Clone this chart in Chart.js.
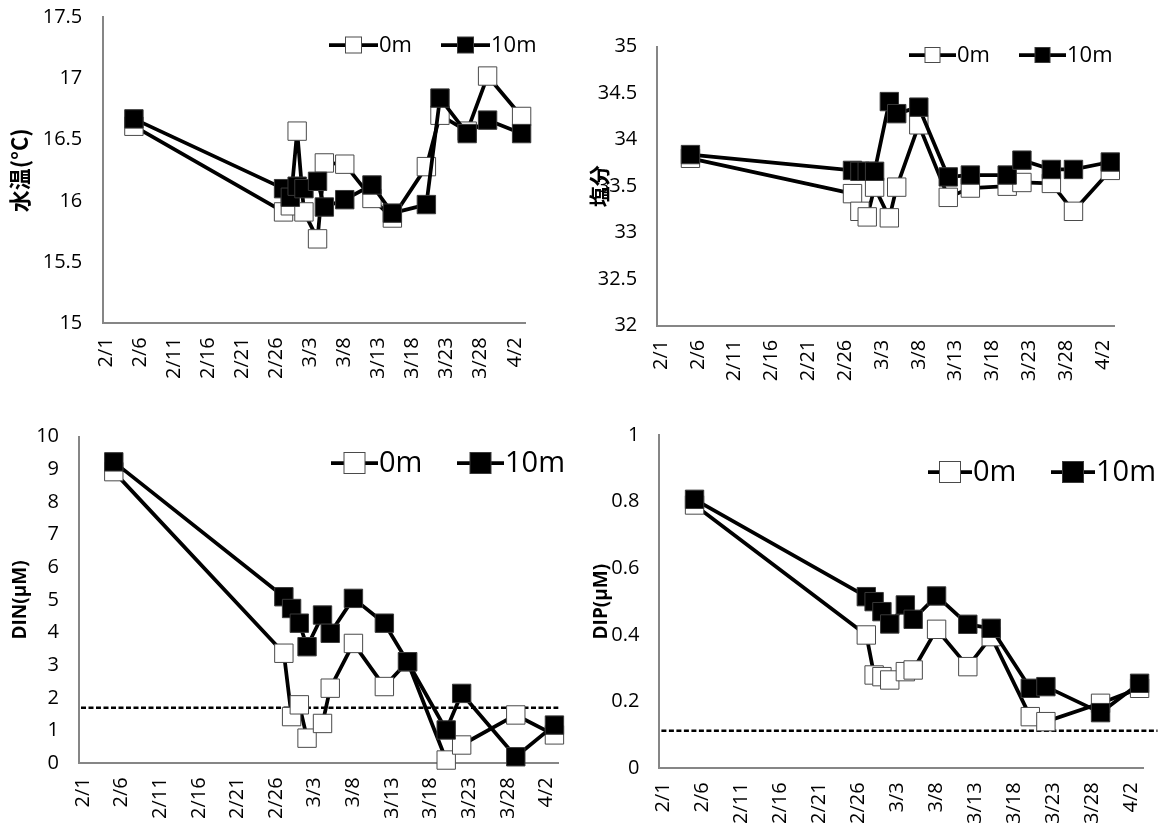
<!DOCTYPE html>
<html>
<head>
<meta charset="utf-8">
<script src="https://cdn.jsdelivr.net/npm/chart.js@4.4.0/dist/chart.umd.min.js"></script>
<style>
  html, body { margin: 0; padding: 0; background: #fff; }
  #wrap { position: relative; width: 1173px; height: 825px; overflow: hidden; }
  #wrap canvas { position: absolute; }
</style>
</head>
<body>
<div id="wrap">
  <canvas id="chartTemp" width="586" height="412" style="left:0;top:0"></canvas>
  <canvas id="chartSal" width="587" height="412" style="left:586px;top:0"></canvas>
  <canvas id="chartDIN" width="586" height="413" style="left:0;top:412px"></canvas>
  <canvas id="chartDIP" width="587" height="413" style="left:586px;top:412px"></canvas>
</div>
<script>
// sampling dates (M/D)
const DATES_CTD = ['2/5','2/27','2/28','3/1','3/2','3/4','3/5','3/8','3/12','3/15','3/20','3/22','3/26','3/29','4/3'];
const DATES_NUT = ['2/5','2/27','2/28','3/1','3/2','3/4','3/5','3/8','3/12','3/15','3/20','3/22','3/29','4/3'];
const TICK_DATES = ['2/1','2/6','2/11','2/16','2/21','2/26','3/3','3/8','3/13','3/18','3/23','3/28','4/2'];

const TEMP_0M  = [16.61, 15.91, 15.96, 16.57, 15.91, 15.69, 16.31, 16.30, 16.02, 15.86, 16.28, 16.70, 16.57, 17.02, 16.69];
const TEMP_10M = [16.67, 16.10, 16.03, 16.12, 16.10, 16.16, 15.95, 16.01, 16.13, 15.90, 15.97, 16.84, 16.55, 16.66, 16.55];

const SAL_0M  = [33.80, 33.42, 33.23, 33.17, 33.49, 33.16, 33.49, 34.16, 33.38, 33.48, 33.50, 33.54, 33.53, 33.23, 33.67];
const SAL_10M = [33.84, 33.67, 33.66, 33.66, 33.66, 34.41, 34.28, 34.35, 33.60, 33.62, 33.62, 33.78, 33.68, 33.68, 33.76];

const DIN_0M  = [8.93, 3.37, 1.43, 1.79, 0.77, 1.22, 2.30, 3.67, 2.35, 3.11, 0.10, 0.56, 1.48, 0.87];
const DIN_10M = [9.23, 5.10, 4.74, 4.29, 3.57, 4.54, 3.98, 5.05, 4.29, 3.11, 1.02, 2.14, 0.20, 1.17];

const DIP_0M  = [0.790, 0.400, 0.280, 0.275, 0.265, 0.290, 0.295, 0.417, 0.305, 0.395, 0.155, 0.140, 0.195, 0.240];
const DIP_10M = [0.807, 0.515, 0.500, 0.470, 0.433, 0.490, 0.447, 0.517, 0.432, 0.420, 0.240, 0.245, 0.167, 0.255];

// detection-limit lines
const DIN_LIMIT = 1.7;
const DIP_LIMIT = 0.113;

const FONT = "'Open Sans', 'DejaVu Sans', sans-serif";
const JP_FONT = "'Noto Sans CJK JP', 'Noto Sans', sans-serif";
const AXIS_GRAY = '#868686';

// days since 2/1
function toDay(md) {
  const [m, d] = md.split('/').map(Number);
  const monthStart = { 2: 0, 3: 28, 4: 59 };
  return monthStart[m] + d - 1;
}

function series(dates, vals) {
  return dates.map((d, i) => ({ x: toDay(d), y: vals[i] }));
}

const tickLabelByDay = Object.fromEntries(TICK_DATES.map(t => [toDay(t), t]));

const legendMarks = {
  id: 'legendMarks',
  afterDraw(chart, args, opts) {
    const ctx = chart.ctx;
    ctx.save();
    chart.data.datasets.forEach((ds, i) => {
      if (!ds.label) return;
      const x = opts.x + i * opts.step;
      const y = opts.y;
      ctx.strokeStyle = '#000';
      ctx.lineWidth = ds.borderWidth;
      ctx.beginPath();
      ctx.moveTo(x, y);
      ctx.lineTo(x + opts.len, y);
      ctx.stroke();
      const s = opts.box;
      const bx = x + opts.len / 2 - s / 2;
      ctx.fillStyle = ds.pointBackgroundColor;
      ctx.fillRect(bx, y - s / 2, s, s);
      ctx.strokeStyle = ds.pointBorderColor;
      ctx.lineWidth = 1;
      ctx.strokeRect(bx, y - s / 2, s, s);
      ctx.fillStyle = '#000';
      ctx.font = `${opts.size}px ${FONT}`;
      ctx.textBaseline = 'middle';
      ctx.textAlign = 'left';
      ctx.fillText(ds.label, x + opts.len + 1, y + 1);
    });
    ctx.restore();
  }
};

const refLine = {
  id: 'refLine',
  beforeDatasetsDraw(chart, args, opts) {
    if (opts.value == null) return;
    const { ctx, chartArea, scales } = chart;
    const py = scales.y.getPixelForValue(opts.value);
    ctx.save();
    ctx.setLineDash([5, 2.5]);
    ctx.lineWidth = 2.5;
    ctx.strokeStyle = '#000';
    ctx.beginPath();
    ctx.moveTo(chartArea.left + 2, py);
    ctx.lineTo(chartArea.right + (opts.extend || 0), py);
    ctx.stroke();
    ctx.restore();
  }
};

function lineSet(label, data, filled) {
  return {
    label,
    data,
    borderColor: '#000',
    borderWidth: 3.75,
    borderJoinStyle: 'round',
    borderCapStyle: 'round',
    pointStyle: 'rect',
    pointRadius: 13,
    pointBackgroundColor: filled ? '#000' : '#fff',
    pointBorderColor: filled ? '#3a3a3a' : '#4a4a4a',
    pointBorderWidth: 1,
    tension: 0,
    fill: false,
    clip: false,
    order: filled ? 0 : 1
  };
}

function noEdgePadding(s) {
  s.paddingTop = 0;
  s.paddingBottom = 0;
  s.paddingLeft = 0;
  s.paddingRight = 0;
}

function makeChart(id, cfg) {
  const el = document.getElementById(id);
  return new Chart(el, {
    type: 'line',
    data: {
      datasets: [
        lineSet('0m', series(cfg.dates, cfg.v0), false),
        lineSet('10m', series(cfg.dates, cfg.v10), true)
      ]
    },
    options: {
      responsive: false,
      animation: false,
      events: [],
      layout: { autoPadding: false, padding: { left: 0, top: cfg.top, right: cfg.right, bottom: 0 } },
      plugins: {
        legend: { display: false },
        tooltip: { enabled: false },
        legendMarks: cfg.legend,
        refLine: { value: cfg.limit, extend: cfg.limitExtend || 0 }
      },
      scales: {
        x: {
          type: 'linear',
          min: toDay('2/1') - 0.5,
          max: toDay('4/3') + 0.5,
          grid: { display: false, drawTicks: false },
          border: { display: true, color: AXIS_GRAY, width: 2 },
          afterBuildTicks: s => { s.ticks = TICK_DATES.map(t => ({ value: toDay(t) })); },
          afterFit: s => { s.height = cfg.xHeight; noEdgePadding(s); },
          ticks: {
            autoSkip: false,
            minRotation: 90,
            maxRotation: 90,
            padding: 14,
            color: '#000',
            font: { family: FONT, size: 20 },
            callback: v => tickLabelByDay[v] || ''
          }
        },
        y: {
          min: cfg.yMin,
          max: cfg.yMax,
          grid: { display: false, drawTicks: false },
          border: { display: true, color: AXIS_GRAY, width: 2 },
          afterFit: s => { s.width = cfg.yWidth; noEdgePadding(s); },
          ticks: {
            stepSize: cfg.yStep,
            padding: cfg.tickPad,
            color: '#000',
            font: { family: FONT, size: 20 },
            callback: v => String(parseFloat(v.toFixed(2)))
          },
          title: {
            display: true,
            text: cfg.title,
            color: '#000',
            font: { family: cfg.titleFont, size: cfg.titleSize, weight: 'bold' },
            padding: { top: cfg.titlePad, bottom: 0 }
          }
        }
      }
    },
    plugins: [legendMarks, refLine]
  });
}

document.addEventListener('DOMContentLoaded', () => {
  makeChart('chartTemp', {
    dates: DATES_CTD, v0: TEMP_0M, v10: TEMP_10M,
    yMin: 15, yMax: 17.5, yStep: 0.5,
    top: 17.3, right: 61, yWidth: 103.3, xHeight: 88.7, tickPad: 21,
    title: '水温(°C)', titleFont: JP_FONT, titleSize: 22, titlePad: 6,
    legend: { x: 329, y: 45, step: 112, len: 49, box: 16, size: 22 }
  });
  makeChart('chartSal', {
    dates: DATES_CTD, v0: SAL_0M, v10: SAL_10M,
    yMin: 32, yMax: 35, yStep: 0.5,
    top: 46.7, right: 59, yWidth: 71.3, xHeight: 86.3, tickPad: 20,
    title: '塩分', titleFont: JP_FONT, titleSize: 21, titlePad: 0,
    legend: { x: 323, y: 55, step: 110, len: 47, box: 15, size: 22 }
  });
  makeChart('chartDIN', {
    dates: DATES_NUT, v0: DIN_0M, v10: DIN_10M,
    yMin: 0, yMax: 10, yStep: 1,
    top: 24.7, right: 27.7, yWidth: 79, xHeight: 61.7, tickPad: 20,
    title: 'DIN(μM)', titleFont: FONT, titleSize: 19, titlePad: 9,
    legend: { x: 331, y: 51, step: 126, len: 47, box: 21, size: 29 },
    limit: DIN_LIMIT
  });
  makeChart('chartDIP', {
    dates: DATES_NUT, v0: DIP_0M, v10: DIP_10M,
    yMin: 0, yMax: 1, yStep: 0.2,
    top: 23, right: 29.5, yWidth: 73.4, xHeight: 56.7, tickPad: 20,
    title: 'DIP(μM)', titleFont: FONT, titleSize: 19, titlePad: 4,
    legend: { x: 342, y: 60, step: 123, len: 44, box: 21, size: 29 },
    limit: DIP_LIMIT, limitExtend: 14
  });
});
</script>
</body>
</html>
